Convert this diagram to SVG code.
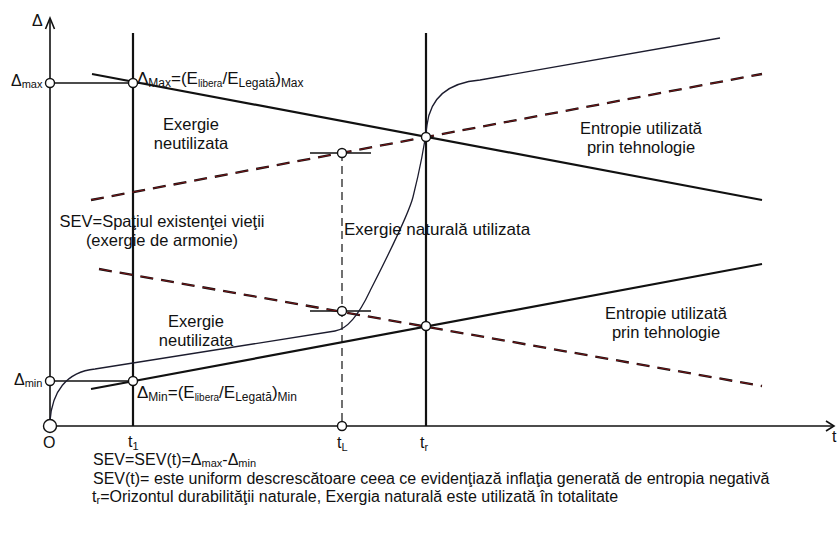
<svg xmlns="http://www.w3.org/2000/svg" width="838" height="535" viewBox="0 0 838 535">
<style>
text{font-family:"Liberation Sans",Arial,sans-serif;fill:#111}
.lbl{font-size:16.5px;text-anchor:middle}
.eq{font-size:17px}
.sub{font-size:12px}
.tiny{font-size:10px}
.ax{font-size:16px}
.bt{font-size:16px}
.bsub{font-size:11px}
.axis{stroke:#111;stroke-width:1.6;fill:none}
.thick{stroke:#111;stroke-width:2.2;fill:none}
.thin{stroke:#111;stroke-width:1.3;fill:none}
.curve{stroke:#1c1c2e;stroke-width:1.3;fill:none}
.dk{stroke:#111;stroke-width:2.3;stroke-dasharray:13 8;fill:none}
.dr{stroke:#c0161b;stroke-width:0.6;stroke-dasharray:13 8;fill:none}
.vd{stroke:#111;stroke-width:1.2;stroke-dasharray:8 5;fill:none}
.pt{fill:#fff;stroke:#111;stroke-width:1.4}
</style>
<rect width="838" height="535" fill="#fff"/>
<g id="connectors">
  <line class="axis" x1="50" y1="426" x2="50" y2="19"/>
  <polyline class="axis" points="45.5,29 50,18 54.5,29"/>
  <line class="axis" x1="50" y1="426" x2="834" y2="426"/>
  <polyline class="axis" points="826,421 834,426 826,431"/>
  <line class="thick" x1="133" y1="33" x2="133" y2="426"/>
  <line class="thick" x1="426" y1="33" x2="426" y2="426"/>
  <line class="vd" x1="342" y1="153" x2="342" y2="426"/>
  <line class="thin" x1="50" y1="83" x2="133" y2="83"/>
  <line class="thin" x1="50" y1="381" x2="133" y2="381"/>
  <line class="thin" x1="310" y1="153" x2="371" y2="153"/>
  <line class="thin" x1="310" y1="311" x2="371" y2="311"/>
  <line class="thick" x1="92" y1="74" x2="762" y2="200"/>
  <line class="thick" x1="91" y1="389" x2="762" y2="264"/>
  <line class="dk" x1="91" y1="200" x2="762" y2="74"/>
  <line class="dr" x1="91" y1="200" x2="762" y2="74"/>
  <line class="dk" x1="99" y1="269" x2="762" y2="386"/>
  <line class="dr" x1="99" y1="269" x2="762" y2="386"/>
  <path class="curve" d="M50,421 C52,392 66,372 95,369 L335,331 C350,329 362,308 370,291 C378,275 408,217 413,197 C418,177 424,150 427,125 C430,100 445,83 480,80 L720,38"/>
</g>
<g id="axis-labels">
  <text class="ax" x="32" y="26">Δ</text>
  <text class="ax" x="43" y="448">O</text>
  <text class="ax" x="128" y="447">t<tspan class="bsub" dy="3">1</tspan></text>
  <text class="ax" x="337" y="448">t<tspan class="bsub" dy="3">L</tspan></text>
  <text class="ax" x="420" y="448">t<tspan class="bsub" dy="3">r</tspan></text>
  <text class="ax" x="832" y="442">t</text>
</g>
<g id="node-delta-max">
  <text class="ax" x="11" y="86">Δ<tspan class="bsub" dy="2">max</tspan></text>
  <circle class="pt" cx="50" cy="83" r="4.5"/>
</g>
<g id="node-delta-min">
  <text class="ax" x="14" y="385">Δ<tspan class="bsub" dy="2">min</tspan></text>
  <circle class="pt" cx="50" cy="381" r="4.5"/>
</g>
<g id="node-origin">
  <circle class="pt" cx="50" cy="426" r="6.5"/>
</g>
<g id="node-max">
  <circle class="pt" cx="133" cy="83" r="4.5"/>
  <text class="eq" x="137" y="84">Δ<tspan class="sub" dy="3">Max</tspan><tspan dy="-3">=(E</tspan><tspan class="tiny" dy="3">libera</tspan><tspan dy="-3">/E</tspan><tspan class="sub" dy="3">Legată</tspan><tspan dy="-3">)</tspan><tspan class="sub" dy="3">Max</tspan></text>
</g>
<g id="node-min">
  <circle class="pt" cx="133" cy="381" r="4.5"/>
  <text class="eq" x="137" y="398">Δ<tspan class="sub" dy="3">Min</tspan><tspan dy="-3">=(E</tspan><tspan class="tiny" dy="3">libera</tspan><tspan dy="-3">/E</tspan><tspan class="sub" dy="3">Legată</tspan><tspan dy="-3">)</tspan><tspan class="sub" dy="3">Min</tspan></text>
</g>
<g id="node-tr-top">
  <circle class="pt" cx="426" cy="137" r="4.5"/>
</g>
<g id="node-tr-bottom">
  <circle class="pt" cx="426" cy="326" r="4.5"/>
</g>
<g id="node-tl-top">
  <circle class="pt" cx="342" cy="153" r="4.5"/>
</g>
<g id="node-tl-mid">
  <circle class="pt" cx="342" cy="311" r="4.5"/>
</g>
<g id="node-tl-axis">
  <circle class="pt" cx="342" cy="426" r="4.5"/>
</g>
<g id="label-exergie-upper">
  <text class="lbl" x="191" y="130">Exergie</text>
  <text class="lbl" x="191" y="148.5">neutilizata</text>
</g>
<g id="label-exergie-lower">
  <text class="lbl" x="196" y="327">Exergie</text>
  <text class="lbl" x="196" y="345.5">neutilizata</text>
</g>
<g id="label-entropie-upper">
  <text class="lbl" x="641" y="134">Entropie utilizată</text>
  <text class="lbl" x="641" y="152.5">prin tehnologie</text>
</g>
<g id="label-entropie-lower">
  <text class="lbl" x="666" y="319">Entropie utilizată</text>
  <text class="lbl" x="666" y="337.5">prin tehnologie</text>
</g>
<g id="label-sev">
  <text class="lbl" x="162" y="227">SEV=Spaţiul existenţei vieţii</text>
  <text class="lbl" x="162" y="245.5">(exergie de armonie)</text>
</g>
<g id="label-exergie-naturala">
  <text class="eq" x="344" y="235">Exergie naturală utilizata</text>
</g>
<g id="notes">
  <text class="bt" x="93" y="465">SEV=SEV(t)=Δ<tspan class="bsub" dy="2">max</tspan><tspan dy="-2">-Δ</tspan><tspan class="bsub" dy="2">min</tspan></text>
  <text class="bt" x="93" y="484">SEV(t)= este uniform descrescătoare ceea ce evidenţiază inflaţia generată de entropia negativă</text>
  <text class="bt" x="92" y="502">t<tspan class="bsub" dy="2">r</tspan><tspan dy="-2">=Orizontul durabilităţii naturale, Exergia naturală este utilizată în totalitate</tspan></text>
</g>
</svg>
